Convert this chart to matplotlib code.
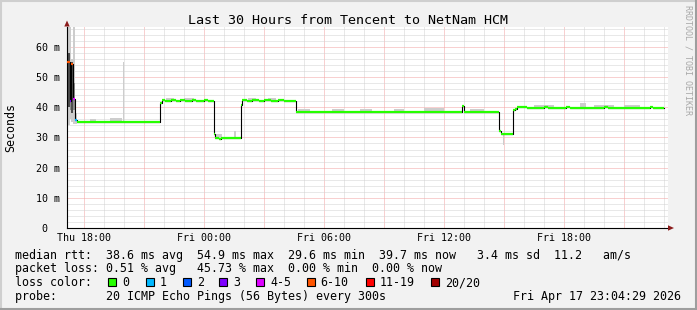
import matplotlib
matplotlib.use("Agg")
import matplotlib.pyplot as plt
from matplotlib.patches import Rectangle, Polygon
from matplotlib.lines import Line2D

W, H = 697, 310
MONO = "DejaVu Sans Mono"

# ---------------- texts ----------------
title = "Last 30 Hours from Tencent to NetNam HCM"
y_label = "Seconds"
side_text = "RRDTOOL / TOBI OETIKER"
legend_rtt = "median rtt:  38.6 ms avg  54.9 ms max  29.6 ms min  39.7 ms now   3.4 ms sd  11.2   am/s"
legend_loss = "packet loss: 0.51 % avg   45.73 % max  0.00 % min  0.00 % now"
legend_color = "loss color:"
legend_probe = "probe:       20 ICMP Echo Pings (56 Bytes) every 300s"
timestamp = "Fri Apr 17 23:04:29 2026"

# ---------------- axes (hours since Thu 00:00, ms) ----------------
x_min, x_max = 17.135, 47.185
y_min, y_max = 0, 66.6
x_major = [18, 21, 24, 27, 30, 33, 36, 39, 42, 45]
x_major_labels = ["Thu 18:00", "", "Fri 00:00", "", "Fri 06:00", "", "Fri 12:00", "", "Fri 18:00", ""]
x_minor = list(range(18, 48))
y_major = [0, 10, 20, 30, 40, 50, 60]
y_major_labels = ["0  ", "10 m", "20 m", "30 m", "40 m", "50 m", "60 m"]
y_minor = list(range(0, 67, 2))

# ---------------- loss colours ----------------
loss_labels = ["0", "1", "2", "3", "4-5", "6-10", "11-19", "20/20"]
loss_colors = ["#26ff00", "#00b8ff", "#0059ff", "#7e00ff", "#dd00ff", "#ff5500", "#ff0000", "#a10000"]

# ---------------- median rtt (step series) ----------------
med_start = [17.15, 17.27, 17.33, 17.45, 17.55, 17.62, 19.00, 19.15,
             21.79, 21.88, 22.05, 22.35, 22.60, 22.80, 23.05, 23.40, 23.60, 24.00, 24.20,
             24.49, 24.56, 24.75, 24.85,
             25.83, 25.90, 26.15, 26.40, 26.75, 27.00, 27.35, 27.70, 28.00,
             28.58, 36.87, 37.00, 38.75, 38.82,
             39.42, 39.52, 39.62, 40.15, 41.00, 41.20, 42.10, 42.30, 44.00, 44.20, 46.30, 46.45]
med_ms = [55.0, 42.0, 54.2, 42.8, 35.8, 35.2, 35.0, 35.2,
          41.3, 42.5, 42.2, 42.4, 42.2, 42.5, 42.2, 42.4, 42.2, 42.4, 42.2,
          31.1, 29.8, 29.5, 29.8,
          40.8, 42.5, 42.2, 42.4, 42.2, 42.4, 42.2, 42.4, 42.2,
          38.5, 40.3, 38.6, 32.1, 31.1,
          39.0, 39.4, 40.1, 39.9, 40.1, 39.9, 40.1, 39.9, 40.1, 39.9, 40.1, 39.8]
med_loss = [5, 3, 5, 4, 1, 0, 0, 0,
            0, 0, 0, 0, 0, 0, 0, 0, 0, 0, 0,
            0, 0, 0, 0,
            0, 0, 0, 0, 0, 0, 0, 0, 0,
            0, 0, 0, 0, 0,
            0, 0, 0, 0, 0, 0, 0, 0, 0, 0, 0, 0]
med_end = 47.0

# ---------------- smoke (ping spread) ----------------
smoke_start = [17.12, 17.12, 17.27, 17.27, 17.33, 17.33, 17.45, 17.45, 17.55,
               18.30, 19.30, 19.92, 22.10, 23.00, 24.60, 25.50, 26.20, 27.20,
               28.70, 30.40, 31.80, 33.50, 35.00, 37.30, 38.95, 40.50, 42.80, 43.50, 45.00]
smoke_end = [17.27, 17.27, 17.33, 17.33, 17.45, 17.45, 17.55, 17.55, 17.65,
             18.60, 19.90, 19.97, 22.50, 23.50, 24.90, 25.60, 26.60, 27.60,
             29.30, 31.00, 32.40, 34.00, 36.00, 38.00, 39.00, 41.50, 43.10, 44.50, 45.80]
smoke_lo = [34.0, 40.0, 36.0, 39.0, 35.0, 38.0, 34.5, 39.0, 34.5,
            35.2, 35.2, 35.2, 42.2, 42.2, 29.8, 29.8, 42.2, 42.2,
            38.5, 38.5, 38.5, 38.5, 38.5, 38.6, 27.5, 39.9, 39.9, 39.9, 39.9]
smoke_hi = [66.6, 58.0, 66.6, 55.0, 56.0, 55.0, 66.6, 48.0, 38.0,
            36.2, 36.5, 55.0, 43.2, 43.0, 31.0, 32.3, 43.0, 43.0,
            39.3, 39.5, 39.4, 39.3, 39.6, 39.5, 31.1, 40.8, 41.5, 40.8, 40.7]
smoke_shade = [0, 2, 0, 1, 0, 2, 0, 1, 0,
               0, 0, 0, 0, 0, 0, 0, 0, 0,
               0, 0, 0, 0, 0, 0, 0, 0, 0, 0, 0]
shade_colors = ["#cdcdcd", "#8a8a8a", "#4e4e4e"]


def fx(px):
    return px / W


def fy(py):
    return 1 - py / H


fig = plt.figure(figsize=(W / 100, H / 100), dpi=100)
fig.patch.set_facecolor("#f2f2f2")

ax = fig.add_axes([fx(67), fy(228), fx(668) - fx(67), fy(27) - fy(228)])
ax.set_facecolor("white")
ax.set_xlim(x_min, x_max)
ax.set_ylim(y_min, y_max)

# grid
ax.set_xticks(x_major, labels=x_major_labels)
ax.set_xticks(x_minor, minor=True)
ax.set_yticks(y_major, labels=y_major_labels)
ax.set_yticks(y_minor, minor=True)
ax.set_axisbelow(True)
ax.grid(which="minor", color="#d2d2d2", linestyle=(0, (1, 1)), linewidth=0.72)
ax.grid(which="major", color="#f3a3a3", linestyle=(0, (1, 1)), linewidth=0.72)
ax.tick_params(which="both", length=0)
ax.tick_params(axis="x", pad=3.4, labelsize=7.2)
ax.tick_params(axis="y", pad=5.0, labelsize=7.2)
for lab in ax.get_xticklabels() + ax.get_yticklabels():
    lab.set_fontfamily(MONO)

for side in ["top", "right"]:
    ax.spines[side].set_visible(False)
for side in ["left", "bottom"]:
    ax.spines[side].set_color("black")
    ax.spines[side].set_linewidth(0.8)

# smoke
for s, e, lo, hi, sh in zip(smoke_start, smoke_end, smoke_lo, smoke_hi, smoke_shade):
    ax.bar(s, hi - lo, width=e - s, bottom=lo, align="edge",
           color=shade_colors[sh], linewidth=0, zorder=2)

# median: black step connections, then coloured levels
t_ext = med_start + [med_end]
v_ext = med_ms + [med_ms[-1]]
ax.step(t_ext, v_ext, where="post", color="black", linewidth=0.8, zorder=3)
ax.hlines(med_ms, med_start, med_start[1:] + [med_end],
          colors=[loss_colors[i] for i in med_loss], linewidth=1.6, zorder=4,
          capstyle="butt")

# arrows
fig.add_artist(Polygon([(fx(64.3), fy(26.5)), (fx(69.7), fy(26.5)), (fx(67), fy(20.5))],
                       closed=True, facecolor="#8b1c1c", edgecolor="none"))
fig.add_artist(Polygon([(fx(668), fy(225.3)), (fx(668), fy(230.7)), (fx(674), fy(228))],
                       closed=True, facecolor="#8b1c1c", edgecolor="none"))

# border
fig.add_artist(Line2D([0, 1], [fy(1), fy(1)], color="#cfcfcf", linewidth=1.5))
fig.add_artist(Line2D([fx(1), fx(1)], [0, 1], color="#cfcfcf", linewidth=1.5))
fig.add_artist(Line2D([fx(696), fx(696)], [0, 1], color="#9e9e9e", linewidth=1.5))
fig.add_artist(Line2D([0, 1], [fy(309), fy(309)], color="#9e9e9e", linewidth=1.5))

# texts
fig.text(fx(348.5), fy(24), title, family=MONO, fontsize=9.6, ha="center", va="baseline")
fig.text(fx(11), fy(128), y_label, family=MONO, fontsize=8.4, rotation=90,
         ha="center", va="center")
fig.text(fx(688), fy(60), side_text, family=MONO, fontsize=6.0, rotation=270,
         ha="center", va="center", color="#a8a8a8")

fig.text(fx(15), fy(258.5), legend_rtt, family=MONO, fontsize=8.4, va="baseline")
fig.text(fx(15), fy(272.3), legend_loss, family=MONO, fontsize=8.4, va="baseline")
fig.text(fx(15), fy(286), legend_color, family=MONO, fontsize=8.4, va="baseline")
fig.text(fx(15), fy(300), legend_probe, family=MONO, fontsize=8.4, va="baseline")
fig.text(fx(681), fy(300), timestamp, family=MONO, fontsize=8.4, va="baseline", ha="right")

square_x = [108, 145.7, 182.7, 219.3, 256, 306.7, 365.7, 430.7]
for sx, col, lab in zip(square_x, loss_colors, loss_labels):
    fig.add_artist(Rectangle((fx(sx), fy(286)), fx(8), 8 / H, facecolor=col,
                             edgecolor="black", linewidth=0.8))
    fig.text(fx(sx + 14), fy(286), lab, family=MONO, fontsize=8.4, va="baseline")

fig.savefig("out.png", dpi=100, facecolor=fig.get_facecolor())
